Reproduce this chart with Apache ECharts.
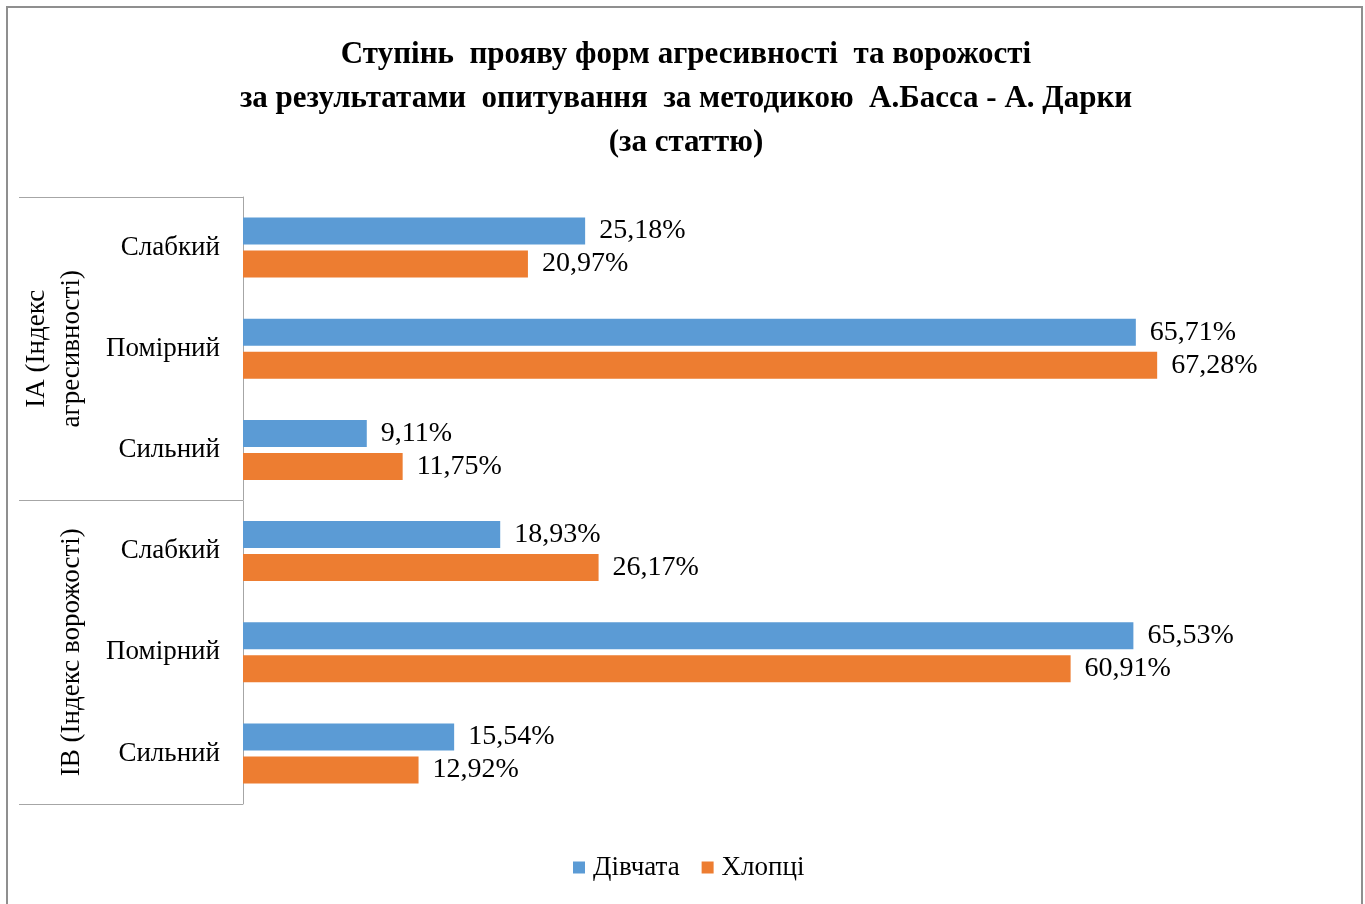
<!DOCTYPE html>
<html>
<head>
<meta charset="utf-8">
<script src="https://cdn.jsdelivr.net/npm/echarts@6/dist/echarts.min.js"></script>
<style>
    html, body { margin: 0; padding: 0; background: #fff; }
    #chart { width: 1365px; height: 904px; }
    .frame {
        position: absolute; left: 6px; top: 6px; width: 1353px; height: 960px;
        border: 2px solid #8f8f8f; pointer-events: none;
    }
</style>
</head>
<body>
<div id="chart"></div>
<div class="frame"></div>
<script>
const categories = ['Слабкий', 'Помірний', 'Сильний', 'Слабкий', 'Помірний', 'Сильний']
const groups = ['IA (Індекс\nагресивності)', 'IB (Індекс ворожості)']
const girls = [25.18, 65.71, 9.11, 18.93, 65.53, 15.54]
const boys = [20.97, 67.28, 11.75, 26.17, 60.91, 12.92]

const serif = 'Liberation Serif'
const pct = (p) => p.value.toFixed(2).replace('.', ',') + '%'

const myChart = echarts.init(document.getElementById('chart'))
myChart.setOption({
    animation: false,
    title: {
        text: 'Ступінь  прояву форм агресивності  та ворожості\nза результатами  опитування  за методикою  А.Басса - А. Дарки\n(за статтю)',
        left: 681,
        top: 28,
        textAlign: 'center',
        textStyle: { fontFamily: serif, fontWeight: 'bold', fontSize: 31, lineHeight: 44, color: '#000', align: 'center' }
    },
    legend: {
        bottom: 18,
        left: 568,
        icon: 'rect',
        itemWidth: 12,
        itemHeight: 12,
        itemGap: 22,
        textStyle: { fontFamily: serif, fontSize: 27, color: '#000', padding: [0, 0, 0, 3] },
        data: ['Дівчата', 'Хлопці']
    },
    grid: { left: 243, top: 197, right: 35, bottom: 100 },
    xAxis: { type: 'value', min: 0, max: 80, show: false },
    yAxis: [
        {
            type: 'category',
            inverse: true,
            data: categories,
            axisLine: { lineStyle: { color: '#a6a6a6', width: 1 } },
            axisTick: { show: false },
            axisLabel: { fontFamily: serif, fontSize: 27, color: '#000', margin: 23, padding: [4, 0, 0, 0] }
        },
        {
            type: 'category',
            inverse: true,
            position: 'left',
            data: groups,
            axisLine: { show: false },
            axisTick: { show: true, interval: 0, length: 224, lineStyle: { color: '#a6a6a6', width: 1 } },
            axisLabel: { interval: 0, fontFamily: serif, fontSize: 27, color: '#000', rotate: 90, margin: 154, lineHeight: 35 }
        }
    ],
    color: ['#5B9BD5', '#ED7D31'],
    series: [
        {
            name: 'Дівчата',
            type: 'bar',
            data: girls,
            barWidth: 27,
            barGap: '22%',
            label: { show: true, position: 'right', distance: 14, formatter: pct, fontFamily: serif, fontSize: 28, color: '#000', padding: [4, 0, 0, 0] }
        },
        {
            name: 'Хлопці',
            type: 'bar',
            data: boys,
            barWidth: 27,
            label: { show: true, position: 'right', distance: 14, formatter: pct, fontFamily: serif, fontSize: 28, color: '#000', padding: [4, 0, 0, 0] }
        }
    ]
})
</script>
</body>
</html>
